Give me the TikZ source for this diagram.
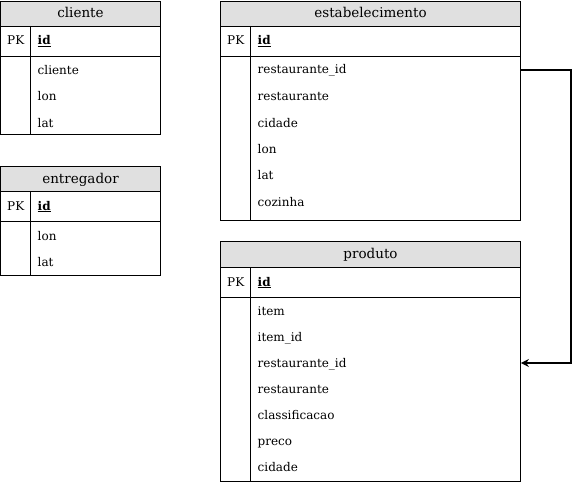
\documentclass[tikz,border=0pt]{standalone}
\usepackage{fontspec}
\setmainfont{DejaVu Serif}
\usetikzlibrary{arrows.meta}
\definecolor{hdr}{HTML}{E0E0E0}
\begin{document}
\begin{tikzpicture}[x=1pt,y=-1pt,
  frame/.style={draw=black,line width=0.9pt},
  hdrbox/.style={draw=black,line width=0.9pt,fill=hdr},
  title/.style={font=\fontsize{13.5}{16}\selectfont,inner sep=0pt,text height=11pt,text depth=3pt},
  pk/.style={font=\fontsize{12}{14}\selectfont,anchor=west,inner sep=0pt,text height=11pt,text depth=3pt},
  fld/.style={font=\fontsize{12}{14}\selectfont,anchor=west,inner xsep=7pt,inner ysep=0pt,minimum height=26pt,minimum width=270pt,text width=256pt,align=left,text height=11pt,text depth=3pt},
  fldsmall/.style={fld,minimum width=130pt,text width=116pt},
  rel/.style={draw=black,line width=1.6pt,-{Stealth[length=8pt,width=8pt]}}]
\useasboundingbox (0,0) rectangle (580,484);

% ---------- cliente ----------
\draw[hdrbox] (0.5,1) rectangle (160.5,26);
\node[title] (c-t) at (80.5,14) {cliente};
\draw[frame] (0.5,26) rectangle (160.5,134);
\draw[frame] (0.5,56) -- (160.5,56);
\draw[frame] (30.5,26) -- (30.5,134);
\node[pk] (c-pk) at (7,41) {PK};
\node[fldsmall] (c-id) at (30.5,41) {\textbf{\underline{id}}};
\node[fldsmall] (c-1) at (30.5,71) {cliente};
\node[fldsmall] (c-2) at (30.5,97) {lon};
\node[fldsmall] (c-3) at (30.5,123) {lat};

% ---------- entregador ----------
\draw[hdrbox] (0.5,166) rectangle (160.5,191);
\node[title] (g-t) at (80.5,179) {entregador};
\draw[frame] (0.5,191) rectangle (160.5,275);
\draw[frame] (0.5,221) -- (160.5,221);
\draw[frame] (30.5,191) -- (30.5,275);
\node[pk] (g-pk) at (7,206) {PK};
\node[fldsmall] (g-id) at (30.5,206) {\textbf{\underline{id}}};
\node[fldsmall] (g-1) at (30.5,236) {lon};
\node[fldsmall] (g-2) at (30.5,262) {lat};

% ---------- estabelecimento ----------
\draw[hdrbox] (220.5,1) rectangle (520.5,26);
\node[title] (e-t) at (370.5,14) {estabelecimento};
\draw[frame] (220.5,26) rectangle (520.5,220);
\draw[frame] (220.5,56) -- (520.5,56);
\draw[frame] (250.5,26) -- (250.5,220);
\node[pk] (e-pk) at (227,41) {PK};
\node[fld] (e-id) at (250.5,41) {\textbf{\underline{id}}};
\node[fld] (e-1) at (250.5,70) {restaurante\_id};
\node[fld] (e-2) at (250.5,97) {restaurante};
\node[fld] (e-3) at (250.5,123) {cidade};
\node[fld] (e-4) at (250.5,149) {lon};
\node[fld] (e-5) at (250.5,175) {lat};
\node[fld] (e-6) at (250.5,202) {cozinha};

% ---------- produto ----------
\draw[hdrbox] (220.5,241) rectangle (520.5,267);
\node[title] (p-t) at (370.5,254) {produto};
\draw[frame] (220.5,267) rectangle (520.5,481);
\draw[frame] (220.5,297) -- (520.5,297);
\draw[frame] (250.5,267) -- (250.5,481);
\node[pk] (p-pk) at (227,282) {PK};
\node[fld] (p-id) at (250.5,282) {\textbf{\underline{id}}};
\node[fld] (p-1) at (250.5,311) {item};
\node[fld] (p-2) at (250.5,337) {item\_id};
\node[fld] (p-3) at (250.5,363) {restaurante\_id};
\node[fld] (p-4) at (250.5,389) {restaurante};
\node[fld] (p-5) at (250.5,415) {classificacao};
\node[fld] (p-6) at (250.5,441) {preco};
\node[fld] (p-7) at (250.5,467) {cidade};

% ---------- relation ----------
\draw[rel] (e-1.east) -- ++(50,0) |- (p-3.east);
\end{tikzpicture}
\end{document}
